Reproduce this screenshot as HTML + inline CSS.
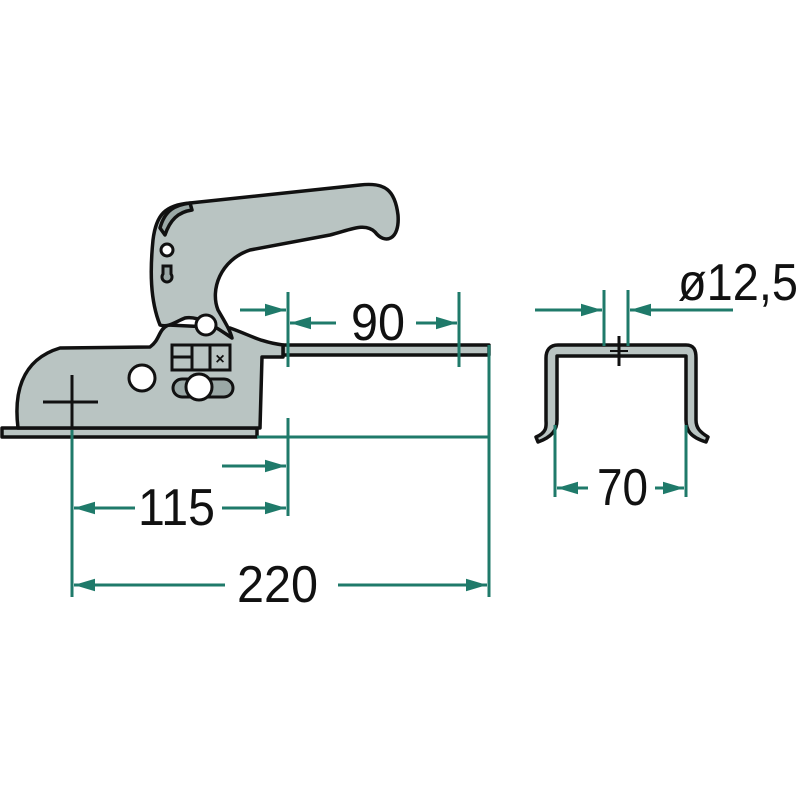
<!DOCTYPE html>
<html><head><meta charset="utf-8"><style>
html,body{margin:0;padding:0;background:#fff;}
svg{display:block}
text{font-family:"Liberation Sans",sans-serif;font-size:52px;fill:#111;}
</style></head><body>
<svg width="800" height="800" viewBox="0 0 800 800" xmlns="http://www.w3.org/2000/svg">
<defs>
<marker id="a" viewBox="0 0 10 10" refX="10" refY="5" markerWidth="7" markerHeight="4.2" orient="auto-start-reverse" markerUnits="strokeWidth" preserveAspectRatio="none">
<path d="M0,0 L10,5 L0,10 z" fill="#1f7a6a"/></marker>
</defs>
<g stroke="#111" stroke-width="3.5" fill="#b9c4c2" stroke-linejoin="round">
<rect x="2" y="428" width="255" height="9"/>
<rect x="283" y="345" width="206" height="10"/>
<path d="M18,428 C14,395 20,360 60,348 L150,347 C160,340 158,330 168,325 L230,328 C250,335 260,342 283,345 L283,357 L262,357 L260,428 Z"/>
<path d="M160,325 C150,300 150,270 153,240 C156,215 165,205 190,203 L360,185 C385,182 395,190 398,215 C400,240 385,245 375,232 C365,222 350,230 330,235 L250,250 C220,260 210,290 218,310 C225,322 230,330 232,338 C220,330 200,315 185,318 C175,322 168,328 160,325 Z"/>
<path d="M160,228 C165,210 175,205 190,203 L192,210 C178,212 170,220 165,235 Z" fill="#9aa8a6"/>
</g>
<g stroke="#111" stroke-width="3" fill="#fff">
<circle cx="167" cy="250" r="6"/>
<path d="M163,266 L171,266 L171,274 A5,5 0 1 1 163,274 Z" fill="#9aa8a6"/>
<circle cx="206" cy="325" r="10"/>
<circle cx="142" cy="378" r="13"/>
<rect x="172" y="345" width="58" height="25" fill="#b9c4c2"/>
<line x1="192" y1="345" x2="192" y2="370"/><line x1="210" y1="345" x2="210" y2="370"/>
<line x1="172" y1="357" x2="192" y2="357"/>
<rect x="173" y="379" width="60" height="18" rx="9" fill="#9aa8a6"/>
<circle cx="199" cy="387" r="13"/>
</g>
<text x="220" y="364" style="font-size:16px;font-weight:bold" text-anchor="middle">×</text>
<g stroke="#111" stroke-width="3"><line x1="72" y1="375" x2="72" y2="428"/><line x1="43" y1="402" x2="98" y2="402"/></g>
<path d="M536,437 C548,432 546,425 546,420 L546,358 C546,350 550,345 558,345 L686,345 C694,345 696,350 696,358 L696,420 C696,428 700,432 708,437 L706,442 C690,437 686,430 686,420 L686,356 L557,356 L557,420 C557,430 552,437 538,442 Z" fill="#b9c4c2" stroke="#111" stroke-width="3.5" stroke-linejoin="round"/>
<line x1="619" y1="336" x2="619" y2="366" stroke="#111" stroke-width="3"/>
<line x1="610" y1="351" x2="628" y2="351" stroke="#111" stroke-width="2"/>
<g stroke="#1f7a6a" stroke-width="3" fill="none">
<line x1="288" y1="292" x2="288" y2="367"/><line x1="459" y1="292" x2="459" y2="367"/>
<line x1="240" y1="310" x2="286" y2="310" marker-end="url(#a)"/>
<line x1="336" y1="323" x2="290" y2="323" marker-end="url(#a)"/>
<line x1="416" y1="323" x2="457" y2="323" marker-end="url(#a)"/>
<line x1="257" y1="437" x2="489" y2="437"/>
<line x1="288" y1="418" x2="288" y2="516"/><line x1="489" y1="345" x2="489" y2="597"/>
<line x1="72" y1="430" x2="72" y2="597"/>
<line x1="222" y1="466" x2="286" y2="466" marker-end="url(#a)"/>
<line x1="135" y1="508" x2="74" y2="508" marker-end="url(#a)"/>
<line x1="222" y1="508" x2="286" y2="508" marker-end="url(#a)"/>
<line x1="225" y1="585" x2="74" y2="585" marker-end="url(#a)"/>
<line x1="338" y1="585" x2="487" y2="585" marker-end="url(#a)"/>
<line x1="604" y1="290" x2="604" y2="346"/><line x1="628" y1="290" x2="628" y2="346"/>
<line x1="535" y1="310" x2="602" y2="310" marker-end="url(#a)"/>
<line x1="733" y1="310" x2="630" y2="310" marker-end="url(#a)"/>
<line x1="555" y1="425" x2="555" y2="497"/><line x1="686" y1="425" x2="686" y2="497"/>
<line x1="588" y1="488" x2="557" y2="488" marker-end="url(#a)"/>
<line x1="655" y1="488" x2="684" y2="488" marker-end="url(#a)"/>
</g>
<text x="351" y="340" textLength="54" lengthAdjust="spacingAndGlyphs">90</text>
<text x="138" y="525" textLength="77" lengthAdjust="spacingAndGlyphs">115</text>
<text x="237" y="602" textLength="81" lengthAdjust="spacingAndGlyphs">220</text>
<text x="597" y="505" textLength="51" lengthAdjust="spacingAndGlyphs">70</text>
<text x="678" y="300" textLength="120" lengthAdjust="spacingAndGlyphs">ø12,5</text>
</svg>
</body></html>
